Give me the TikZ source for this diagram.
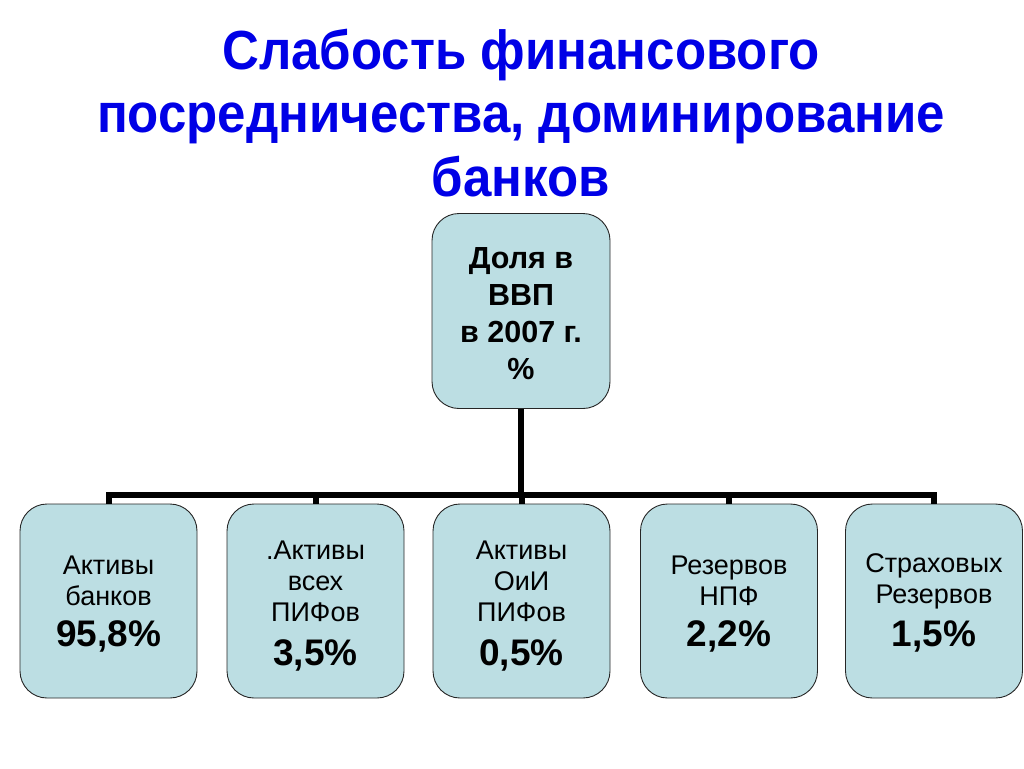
\documentclass[tikz,border=0pt]{standalone}
\usepackage{fontspec}
\setmainfont{Liberation Sans}
\definecolor{boxfill}{RGB}{188,222,227}
\definecolor{titleblue}{RGB}{0,0,230}
\begin{document}
\begin{tikzpicture}[x=1pt,y=-1pt,
  cbox/.style={draw=black!85, line width=0.9pt, fill=boxfill, rounded corners=27pt, inner sep=0pt},
  conn/.style={line width=6pt, black},
  small/.style={font=\fontsize{27}{31}\selectfont},
  big/.style={font=\fontsize{37}{40}\selectfont\bfseries},
]
\useasboundingbox (0,0) rectangle (1024,768);
\node[font=\fontsize{51}{59}\selectfont\bfseries, text=titleblue, align=center, yscale=1.08] (title) at (521,113)
  {Слабость финансового\\посредничества, доминирование\\банков};
% top box
\node[cbox, minimum width=178pt, minimum height=195pt] (top) at (521,311) {};
\node[font=\fontsize{30.5}{37}\selectfont\bfseries, align=center] (toptext) at (521,314)
  {Доля в\\ВВП\\в 2007 г.\\\%};
% bottom boxes
\foreach \n/\x in {b1/108.5, b2/315.5, b3/521.5, b4/729, b5/934}{
  \node[cbox, minimum width=177pt, minimum height=194pt] (\n) at (\x,601) {};
}
\coordinate (bar) at (521,495);
\draw[conn] (top.south) -- (bar);
\draw[conn] (b1.north) -- (b1.north |- bar) -- (b5.north |- bar) -- (b5.north);
\foreach \n in {b2,b3,b4}{
  \draw[conn] (\n.north |- bar) -- (\n.north);
}
% texts
\node[small, align=center] (t1) at (108.5,581) {Активы\\банков};
\node[big] (p1) at (108.5,636) {95,8\%};
\node[small, align=center] (t2) at (315.5,581) {.Активы\\всех\\ПИФов};
\node[big] (p2) at (315.5,655) {3,5\%};
\node[small, align=center] (t3) at (521.5,581) {Активы\\ОиИ\\ПИФов};
\node[big] (p3) at (521.5,655) {0,5\%};
\node[small, align=center] (t4) at (729,581) {Резервов\\НПФ};
\node[big] (p4) at (729,636) {2,2\%};
\node[small, align=center] (t5) at (934,581) {Страховых\\Резервов};
\node[big] (p5) at (934,636) {1,5\%};
\end{tikzpicture}
\end{document}
